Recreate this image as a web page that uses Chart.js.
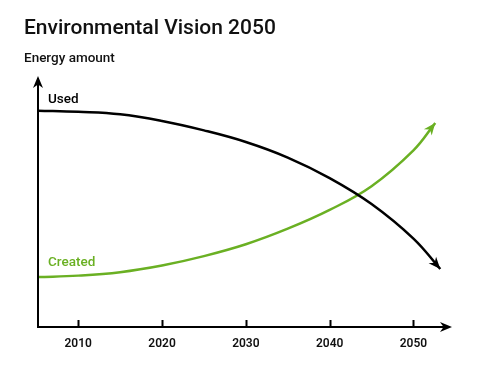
<!DOCTYPE html>
<html><head><meta charset="utf-8">
<script src="https://cdn.jsdelivr.net/npm/chart.js@4.4.1/dist/chart.umd.min.js"></script>
<style>html,body{margin:0;padding:0;background:#fff}#wrap{width:500px;height:370px}</style>
</head><body><div id="wrap"><canvas id="c" width="500" height="370"></canvas></div>
<script>
const titleText = "Environmental Vision 2050";
const yAxisLabel = "Energy amount";
const seriesNames = ["Used", "Created"];
const tickYears = [2010, 2020, 2030, 2040, 2050];
const usedYears = [2005.2, 2010, 2015, 2020, 2025, 2030, 2035, 2040, 2045, 2050, 2053.2];
const usedValues = [87.6, 87.1, 86.1, 83.4, 79.6, 74.9, 68.6, 60.3, 49.8, 35.8, 23.5];
const createdYears = [2005.2, 2010, 2015, 2020, 2025, 2030, 2035, 2040, 2045, 2050, 2052.6];
const createdValues = [20.2, 20.8, 22.2, 24.9, 28.7, 33.5, 39.8, 47.4, 57.0, 71.5, 82.6];

const BLACK = '#000000', GREEN = '#6ab023';
const FONT = 'Roboto, "Liberation Sans", sans-serif';

function arrowHead(ctx, x, y, ang, len, half, color) {
  ctx.save();
  ctx.translate(x, y); ctx.rotate(ang);
  ctx.fillStyle = color;
  ctx.beginPath();
  ctx.moveTo(0, 0); ctx.lineTo(-len, -half); ctx.lineTo(-len * 0.7, 0); ctx.lineTo(-len, half);
  ctx.closePath(); ctx.fill();
  ctx.restore();
}

const decor = {
  id: 'decor',
  afterDatasetsDraw(chart) {
    const ctx = chart.ctx, a = chart.chartArea, xs = chart.scales.x;
    ctx.save();
    chart.data.datasets.forEach((ds, i) => {
      const pts = chart.getDatasetMeta(i).data;
      const p = pts[pts.length - 1];
      const cx = (p.cp1x !== undefined) ? p.cp1x : pts[pts.length - 2].x;
      const cy = (p.cp1y !== undefined) ? p.cp1y : pts[pts.length - 2].y;
      arrowHead(ctx, p.x, p.y, Math.atan2(p.y - cy, p.x - cx), 12, 5, ds.borderColor);
    });
    ctx.strokeStyle = BLACK; ctx.lineWidth = 2; ctx.lineCap = 'butt';
    const ox = a.left, oy = a.bottom;
    ctx.beginPath();
    ctx.moveTo(ox, oy); ctx.lineTo(ox, a.top - 2);
    ctx.moveTo(ox - 1, oy); ctx.lineTo(a.right - 4, oy);
    ctx.stroke();
    arrowHead(ctx, ox, a.top - 4, -Math.PI / 2, 12, 5, BLACK);
    arrowHead(ctx, a.right, oy, 0, 12, 5, BLACK);
    ctx.beginPath();
    tickYears.forEach(v => {
      const x = Math.round(xs.getPixelForValue(v)) + 0.5;
      ctx.moveTo(x, oy); ctx.lineTo(x, oy - 7);
    });
    ctx.stroke();
    ctx.textBaseline = 'alphabetic'; ctx.textAlign = 'left';
    ctx.fillStyle = '#111';
    ctx.font = '500 21px ' + FONT;
    ctx.fillText(titleText, 24, 34);
    ctx.font = '500 13.5px ' + FONT;
    ctx.fillText(yAxisLabel, 24, 62);
    ctx.fillStyle = BLACK;
    ctx.fillText(seriesNames[0], a.left + 10, 103);
    ctx.fillStyle = GREEN;
    ctx.fillText(seriesNames[1], a.left + 10, 266);
    ctx.restore();
  }
};

new Chart(document.getElementById('c'), {
  type: 'line',
  data: {
    datasets: [
      { label: seriesNames[0], data: usedYears.map((x, i) => ({x, y: usedValues[i]})),
        borderColor: BLACK, borderWidth: 2.5, pointRadius: 0, tension: 0.4, fill: false },
      { label: seriesNames[1], data: createdYears.map((x, i) => ({x, y: createdValues[i]})),
        borderColor: GREEN, borderWidth: 2.5, pointRadius: 0, tension: 0.4, fill: false }
    ]
  },
  options: {
    responsive: false, animation: false, devicePixelRatio: 1,
    layout: { padding: { left: 38, right: 48, top: 80, bottom: 8 } },
    plugins: { legend: { display: false }, tooltip: { enabled: false } },
    scales: {
      x: {
        type: 'linear', min: 2005.2, max: 2054.6,
        grid: { display: false, drawTicks: false }, border: { display: false },
        afterBuildTicks(s) { s.ticks = tickYears.map(v => ({ value: v })); },
        afterFit(s) { s.height = 35; },
        ticks: { padding: 10, color: '#111', font: { family: FONT, size: 12, weight: '600' },
                 callback: v => String(v), maxRotation: 0, autoSkip: false }
      },
      y: { display: false, min: 0, max: 100 }
    }
  },
  plugins: [decor]
});
</script></body></html>
